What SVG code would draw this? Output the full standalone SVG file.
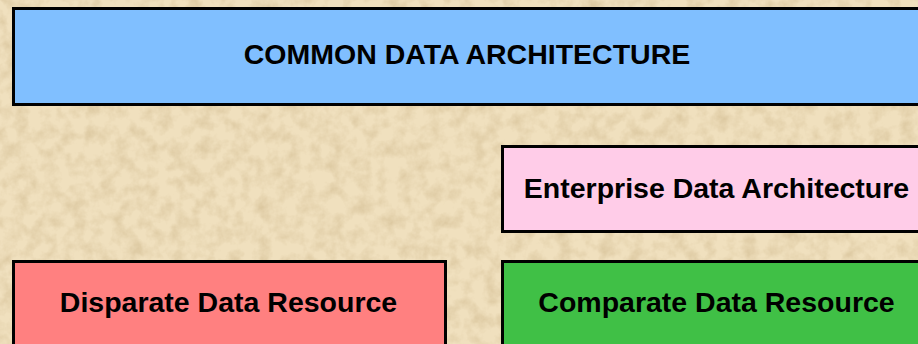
<svg xmlns="http://www.w3.org/2000/svg" width="918" height="344" viewBox="0 0 918 344">
  <defs>
    <filter id="paper" x="0" y="0" width="918" height="344" filterUnits="userSpaceOnUse">
      <feTurbulence type="fractalNoise" baseFrequency="0.07" numOctaves="4" seed="7" result="n"/>
      <feColorMatrix in="n" type="matrix" values="0 0 0 0 0.66  0 0 0 0 0.52  0 0 0 0 0.30  0 0 0 1.3 -0.5"/>
    </filter>
    <style>
      .box { stroke: #000; stroke-width: 3; }
      .lbl { font-family: "Liberation Sans", Arial, Helvetica, sans-serif; font-weight: bold; font-size: 28.5px; fill: #000; text-anchor: middle; }
    </style>
  </defs>
  <g id="background">
    <rect x="0" y="0" width="918" height="344" fill="#F0E0BE"/>
    <rect x="0" y="0" width="918" height="344" filter="url(#paper)"/>
  </g>
  <g id="connectors"/>
  <g id="common-data-architecture">
    <rect class="box" x="13.5" y="8.5" width="908" height="96" fill="#80BFFF"/>
    <text class="lbl" x="467" y="64">COMMON DATA ARCHITECTURE</text>
  </g>
  <g id="enterprise-data-architecture">
    <rect class="box" x="502.5" y="146.5" width="428" height="85" fill="#FFCCE8"/>
    <text class="lbl" x="716.5" y="198">Enterprise Data Architecture</text>
  </g>
  <g id="disparate-data-resource">
    <rect class="box" x="13.5" y="261.5" width="432" height="100" fill="#FF8080"/>
    <text class="lbl" x="228.5" y="312">Disparate Data Resource</text>
  </g>
  <g id="comparate-data-resource">
    <rect class="box" x="502.5" y="261.5" width="428" height="100" fill="#40C046"/>
    <text class="lbl" x="716.5" y="312">Comparate Data Resource</text>
  </g>
</svg>
